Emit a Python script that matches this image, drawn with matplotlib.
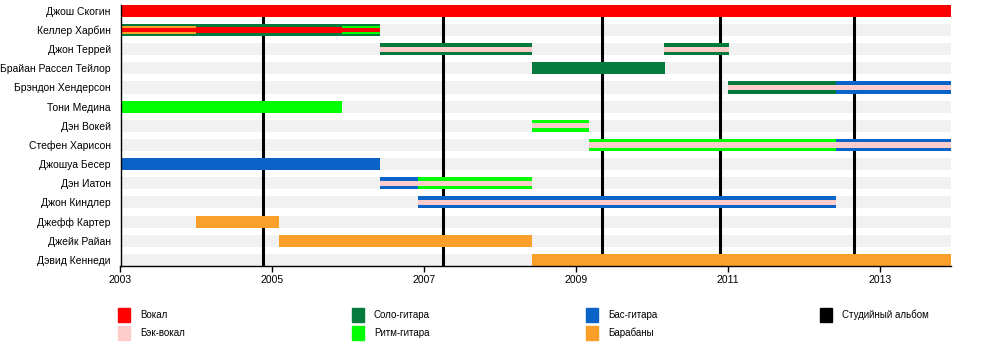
import matplotlib
matplotlib.use("Agg")
import matplotlib.pyplot as plt
from matplotlib.patches import Rectangle

plt.rcParams["font.family"] = ["Liberation Sans", "DejaVu Sans"]

# ---------------------------------------------------------------------------
# Dados
# ---------------------------------------------------------------------------

MEMBROS = [
    "Джош Скогин", "Келлер Харбин", "Джон Террей", "Брайан Рассел Тейлор",
    "Брэндон Хендерсон", "Тони Медина", "Дэн Вокей", "Стефен Харисон",
    "Джошуа Бесер", "Дэн Иатон", "Джон Киндлер", "Джефф Картер",
    "Джейк Райан", "Дэвид Кеннеди",
]

FIM = 2013.93

# (membro, início, fim, papéis de fora para dentro)
PERIODOS = [
    (0, 2003.0, FIM, ("Вокал",)),
    (1, 2003.0, 2004.0, ("Соло-гитара", "Барабаны", "Вокал")),
    (1, 2004.0, 2005.91, ("Соло-гитара", "Вокал")),
    (1, 2005.91, 2006.42, ("Соло-гитара", "Ритм-гитара", "Вокал")),
    (2, 2006.42, 2008.42, ("Соло-гитара", "Бэк-вокал")),
    (2, 2010.16, 2011.01, ("Соло-гитара", "Бэк-вокал")),
    (3, 2008.42, 2010.17, ("Соло-гитара",)),
    (4, 2011.0, 2012.42, ("Соло-гитара", "Бэк-вокал")),
    (4, 2012.42, FIM, ("Бас-гитара", "Бэк-вокал")),
    (5, 2003.0, 2005.92, ("Ритм-гитара",)),
    (6, 2008.42, 2009.17, ("Ритм-гитара", "Бэк-вокал")),
    (7, 2009.17, 2012.42, ("Ритм-гитара", "Бэк-вокал")),
    (7, 2012.42, FIM, ("Бас-гитара", "Бэк-вокал")),
    (8, 2003.0, 2006.42, ("Бас-гитара",)),
    (9, 2006.42, 2006.92, ("Бас-гитара", "Бэк-вокал")),
    (9, 2006.92, 2008.42, ("Ритм-гитара", "Бэк-вокал")),
    (10, 2006.92, 2012.42, ("Бас-гитара", "Бэк-вокал")),
    (11, 2004.0, 2005.09, ("Барабаны",)),
    (12, 2005.09, 2008.42, ("Барабаны",)),
    (13, 2008.42, FIM, ("Барабаны",)),
]

ALBUNS = [2004.87, 2007.25, 2009.34, 2010.89, 2012.66]

ANOS = [2003, 2005, 2007, 2009, 2011, 2013]

CORES = {
    "Вокал": "#ff0000",
    "Бэк-вокал": "#ffcccc",
    "Соло-гитара": "#047a3c",
    "Ритм-гитара": "#00ff00",
    "Бас-гитара": "#0a64c8",
    "Барабаны": "#faa02a",
    "Студийный альбом": "#000000",
}

LEGENDA = ["Вокал", "Бэк-вокал", "Соло-гитара", "Ритм-гитара",
           "Бас-гитара", "Барабаны", "Студийный альбом"]

# alturas das camadas (em unidades de linha) conforme o número de papéis
ALTURAS = {1: [0.63], 2: [0.63, 0.27], 3: [0.63, 0.42, 0.21]}


# ---------------------------------------------------------------------------
# Gráfico
# ---------------------------------------------------------------------------

fig = plt.figure(figsize=(10, 3.55), dpi=100)
ax = fig.add_axes([0.1205, 0.2521, 0.8302, 0.7341])

n = len(MEMBROS)
for i in range(n):
    ax.barh(i, FIM - 2003, left=2003, height=0.63, color="#f1f1f1", zorder=0)

for ano in ALBUNS:
    ax.axvline(ano, color="black", lw=2.2, zorder=1)

for membro, ini, fim, papeis in PERIODOS:
    for papel, h in zip(papeis, ALTURAS[len(papeis)]):
        ax.barh(membro, fim - ini, left=ini, height=h,
                color=CORES[papel], linewidth=0, zorder=2)

ax.set_xlim(2003, FIM)
ax.set_ylim(n - 1 + 0.29, -0.31)
ax.set_yticks(range(n))
ax.set_yticklabels(MEMBROS, fontsize=7.5)
ax.tick_params(axis="y", length=0, pad=7)
ax.set_xticks(ANOS)
ax.set_xticklabels([str(a) for a in ANOS], fontsize=7.5)
ax.tick_params(axis="x", length=4, width=1, pad=3)
for lado in ("top", "right"):
    ax.spines[lado].set_visible(False)
for lado in ("left", "bottom"):
    ax.spines[lado].set_linewidth(1)

# legenda manual em coordenadas da figura (px -> fração)
W, H = 1000, 355
colunas_x = [118, 352, 586, 820]
linhas_y = [315, 333]
for k, nome in enumerate(LEGENDA):
    cx = colunas_x[k // 2]
    cy = linhas_y[k % 2]
    fig.patches.append(Rectangle((cx / W, 1 - (cy + 7) / H), 12 / W, 14 / H,
                                 transform=fig.transFigure,
                                 color=CORES[nome]))
    fig.text((cx + 22) / W, 1 - cy / H, nome, fontsize=7,
             va="center", ha="left")

plt.savefig("out.png", dpi=100)
plt.close()
